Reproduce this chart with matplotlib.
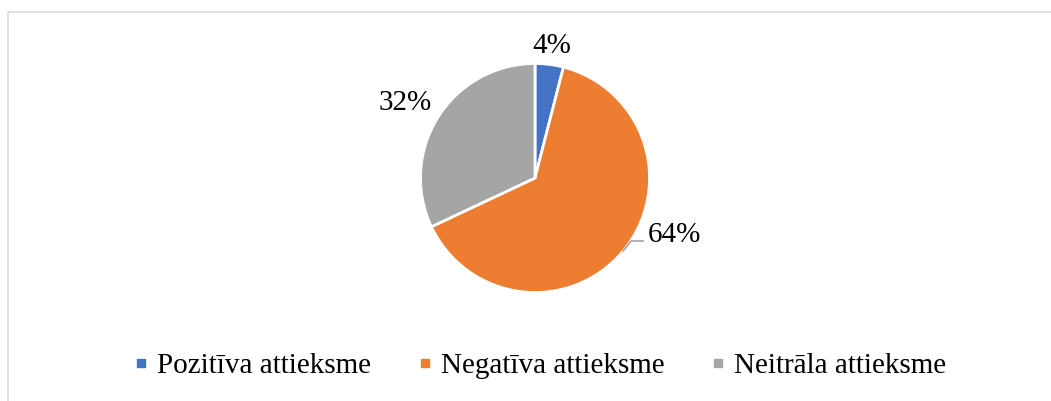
"""Pie chart of attitude shares (positive / negative / neutral)."""
import numpy as np
import matplotlib
matplotlib.use("Agg")
import matplotlib.pyplot as plt
from matplotlib.lines import Line2D

labels = ["Pozitīva attieksme", "Negatīva attieksme", "Neitrāla attieksme"]
values = [4, 64, 32]
colors = ["#4472C4", "#ED7D31", "#A5A5A5"]

plt.rcParams["font.family"] = ["Liberation Serif", "DejaVu Serif"]

W, H = 1051, 401
fig = plt.figure(figsize=(W / 100, H / 100), dpi=100)
ax = fig.add_axes([0, 0, 1, 1])
ax.set_xlim(0, W)
ax.set_ylim(0, H)
ax.set_aspect("equal")
ax.axis("off")

# chart area border (only top and left visible)
ax.plot([8, W], [389, 389], color="#D9D9D9", lw=1.2, solid_capstyle="butt")
ax.plot([8, 8], [389, 0], color="#D9D9D9", lw=1.2, solid_capstyle="butt")

cx, cy, r = 535, 223, 114.5
wedges, _ = ax.pie(values, colors=colors, startangle=90, counterclock=False,
                   center=(cx, cy), radius=r,
                   wedgeprops=dict(edgecolor="white", linewidth=2))
ax.set_xlim(0, W)
ax.set_ylim(0, H)

# data labels
for w, v in zip(wedges, values):
    mid = np.deg2rad((w.theta1 + w.theta2) / 2)
    txt = f"{v}%"
    if v == 4:
        ax.text(cx + 1.16 * r * np.cos(mid), cy + 1.16 * r * np.sin(mid),
                txt, ha="center", va="center", fontsize=21)
    elif v == 32:
        a = mid + np.deg2rad(2.5)
        ax.text(cx + 1.31 * r * np.cos(a), cy + 1.31 * r * np.sin(a),
                txt, ha="center", va="center", fontsize=21)
    else:
        x0, y0 = cx + 1.0 * r * np.cos(mid), cy + 1.0 * r * np.sin(mid)
        x1, y1 = x0 + 8, y0 + 10
        ax.plot([x0, x1, x1 + 12], [y0, y1, y1], color="#A5A5A5", lw=1.2)
        ax.text(x1 + 17, y1 + 6, txt, ha="left", va="center", fontsize=21)

handles = [Line2D([], [], marker="s", linestyle="none", markersize=6,
                  markerfacecolor=c, markeredgecolor=c) for c in colors]
fig.legend(handles, labels, loc="center", bbox_to_anchor=(540 / W, 1 - 366 / H),
           ncol=3, frameon=False, fontsize=21, handlelength=0.5,
           handletextpad=0.3, columnspacing=1.6)

fig.savefig("out.png", dpi=100)
